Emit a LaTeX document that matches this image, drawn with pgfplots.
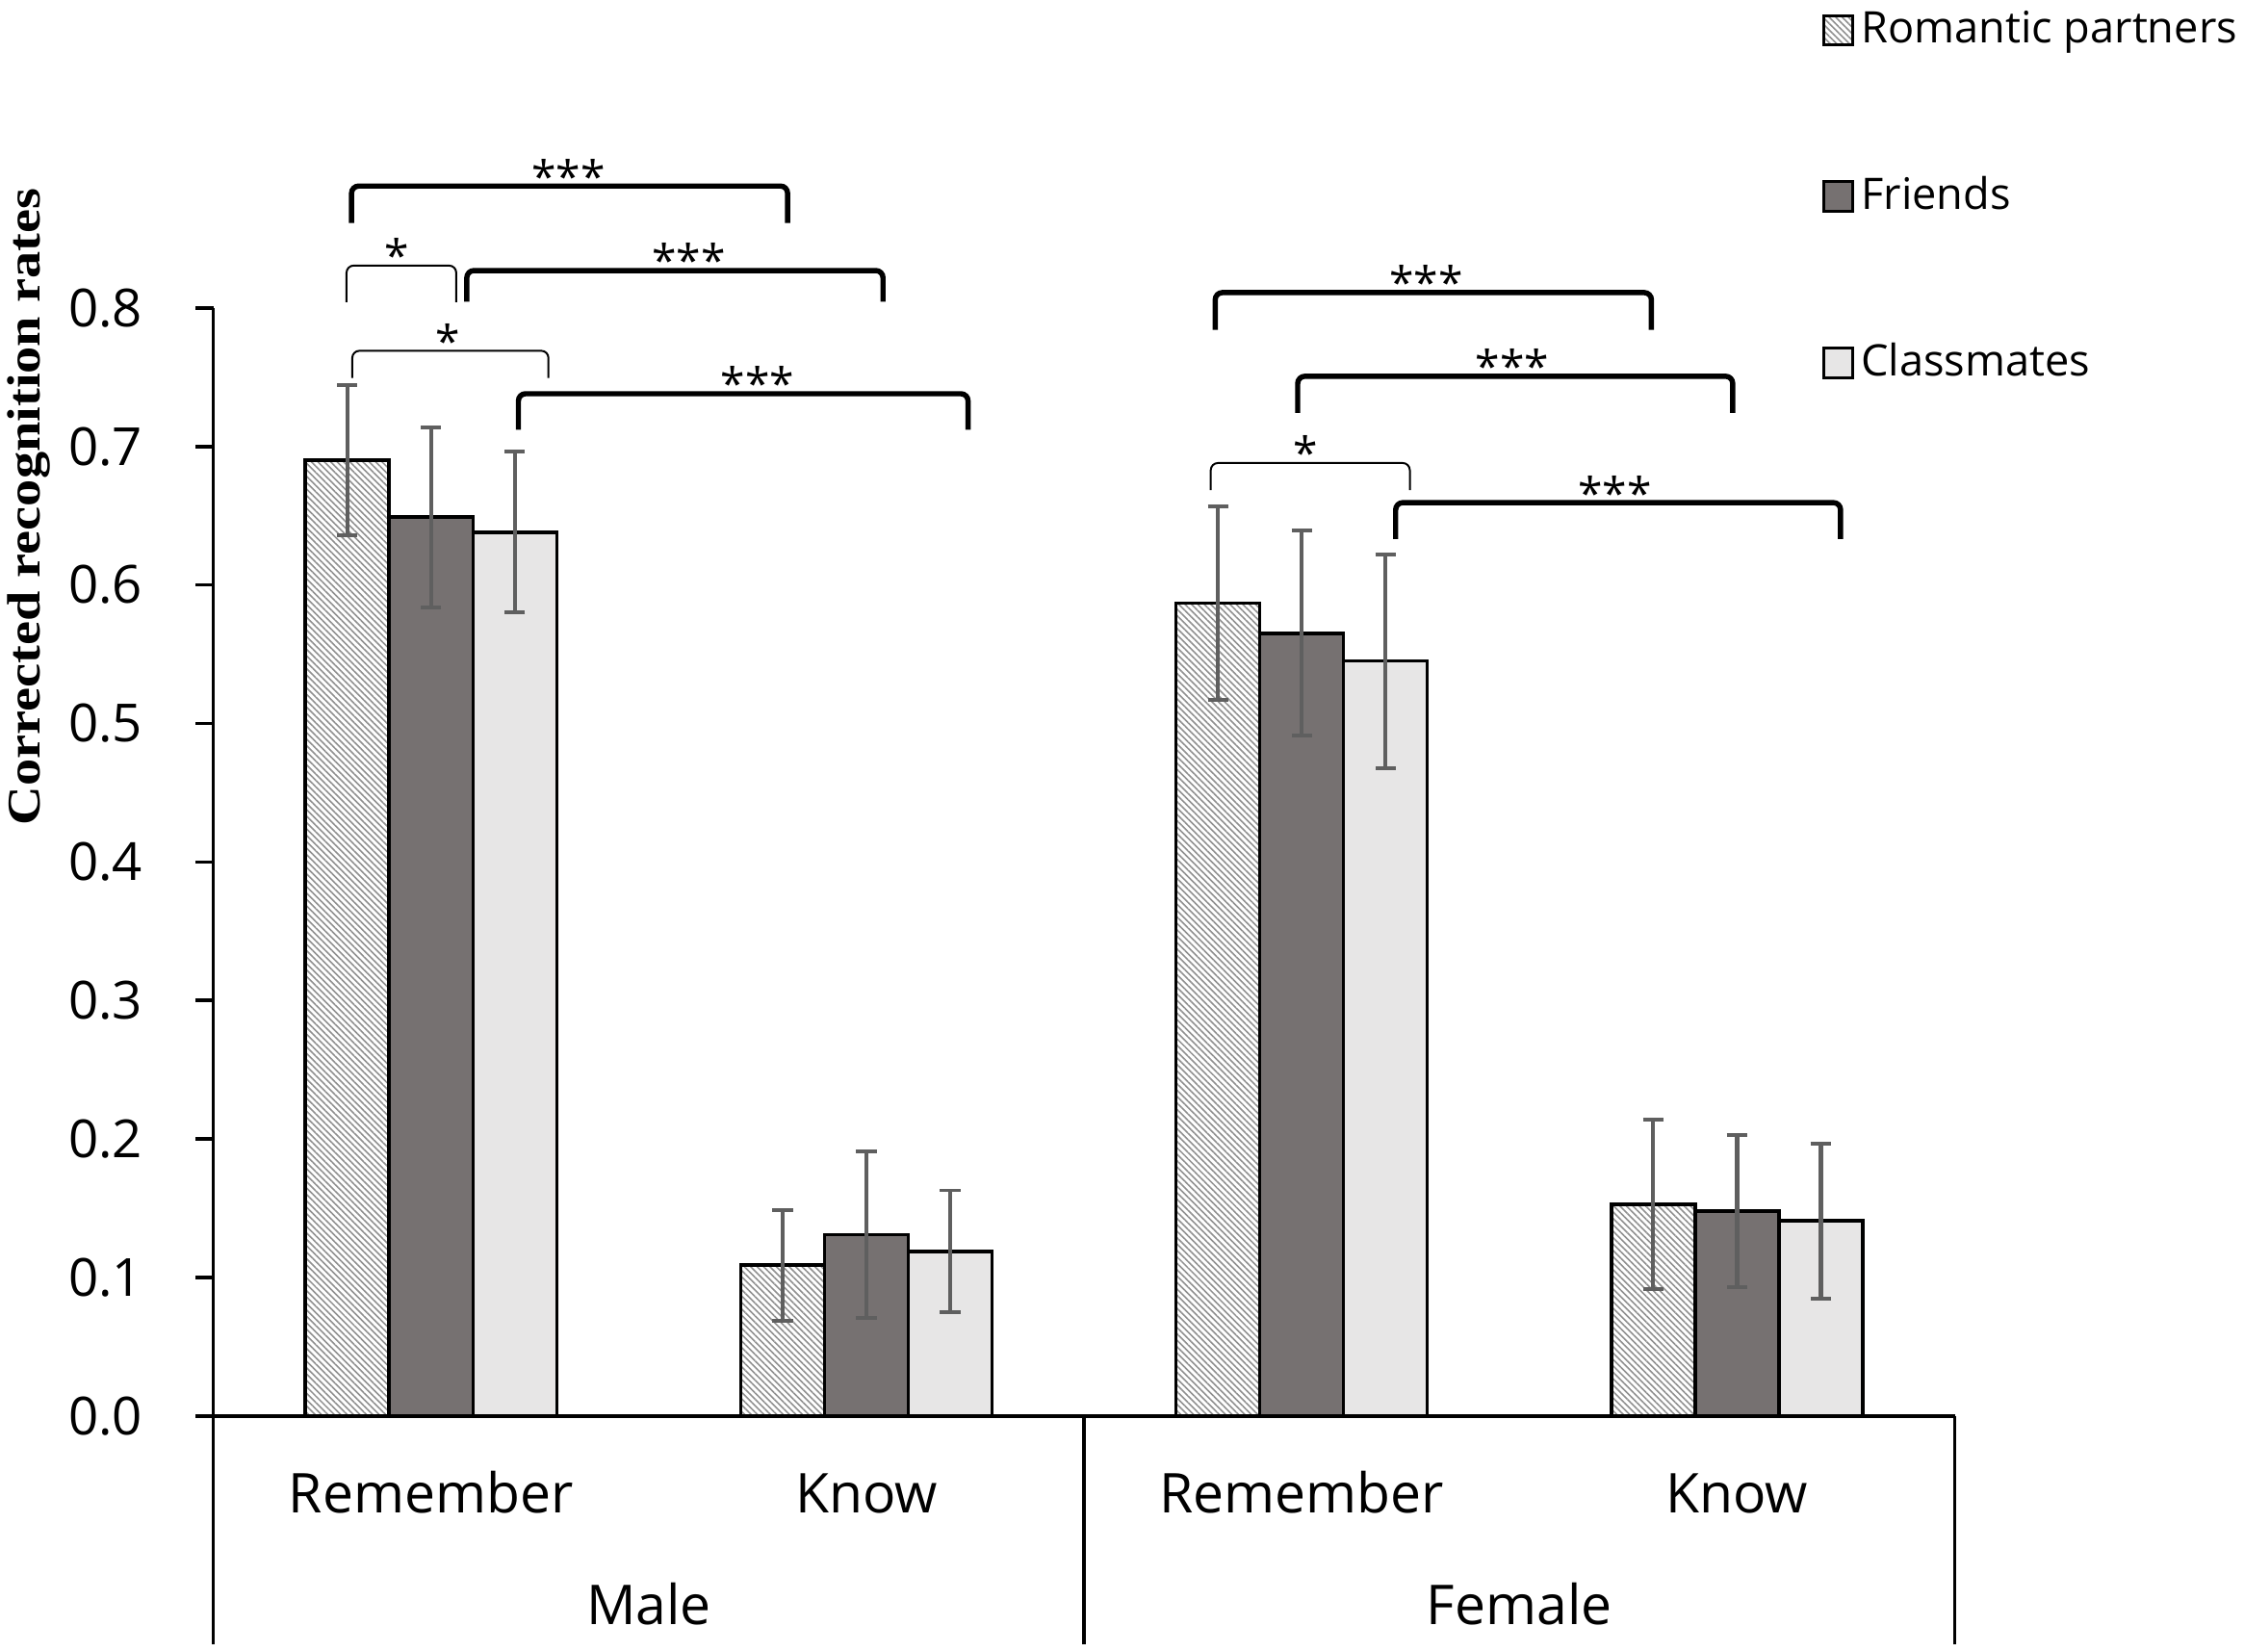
\documentclass[border=0pt]{standalone}
\usepackage{pgfplots}
\pgfplotsset{compat=1.18}
\usepackage{pgfplotstable}
\usepackage{fontspec}
\setmainfont{Open Sans}
\newfontfamily\serifb{Liberation Serif}
\usetikzlibrary{patterns.meta}
\definecolor{friends}{HTML}{767171}
\definecolor{classm}{HTML}{E7E6E6}
\definecolor{errc}{HTML}{5F5F5F}
\definecolor{hatch}{HTML}{909090}

\pgfplotstableread{
x y e
0.5 0.690 0.054
1.5 0.109 0.040
2.5 0.587 0.070
3.5 0.153 0.061
}\romantic
\pgfplotstableread{
x y e
0.5 0.649 0.065
1.5 0.131 0.060
2.5 0.565 0.074
3.5 0.148 0.055
}\friendst
\pgfplotstableread{
x y e
0.5 0.638 0.058
1.5 0.119 0.044
2.5 0.545 0.077
3.5 0.141 0.056
}\classt

% bracket: linewidth, x1, x2, bottom, top, labelx, label
\newcommand{\brk}[7]{%
  \draw[line width=#1, rounded corners=1.5pt] (axis cs:#2,#4) -- (axis cs:#2,#5) -- (axis cs:#3,#5) -- (axis cs:#3,#4);
  \node[anchor=base, inner sep=0pt, yshift=-1.4pt, font=\fontsize{9.3}{10}\selectfont] at (axis cs:#6,#5) {#7};
}

\begin{document}
\begin{tikzpicture}
\begin{axis}[
  scale only axis, width=364.8pt, height=232.2pt,
  xmin=0, xmax=4, ymin=0, ymax=0.8,
  axis lines=left, axis line style={-, line width=0.75pt},
  clip=false,
  ytick={0,0.1,0.2,0.3,0.4,0.5,0.6,0.7,0.8},
  yticklabel style={/pgf/number format/.cd, fixed, fixed zerofill, precision=1, assume math mode=true, /tikz/.cd, font=\fontsize{11}{12}\selectfont, xshift=-7.6pt},
  tick align=outside, major tick length=3.7pt,
  ytick style={line width=0.75pt, black},
  xtick={0.5,1.5,2.5,3.5}, xticklabels={Remember,Know,Remember,Know},
  xtick style={draw=none},
  xticklabel style={font=\fontsize{11.5}{13}\selectfont, anchor=base, yshift=-16.5pt},
  extra x ticks={1,3}, extra x tick labels={Male,Female},
  extra x tick style={xtick style={draw=none}, tick label style={yshift=-23.45pt}},
  ylabel={\serifb\bfseries\fontsize{9.8}{12}\selectfont\scalebox{1.16}[1]{Corrected recognition rates}},
  ylabel style={at={(axis description cs:-0.1061,0.8204)}, anchor=center},
  ybar, bar width=0.1924,
  legend image code/.code={\draw[#1, draw=black, line width=0.6pt] (0pt,-3.075pt) rectangle (6.15pt,3.075pt);},
  legend style={at={(axis description cs:0.9232,1.2752)}, anchor=north west, draw=none, fill=none, inner sep=0pt, row sep=23.45pt, font=\fontsize{9.1}{11}\selectfont, nodes={inner sep=1.5pt}},
  legend cell align=left,
]
\addplot[draw=black, line width=0.7pt, pattern={Lines[angle=-45, distance=0.95pt, line width=0.32pt]}, pattern color=hatch, bar shift=-0.1924,
  error bars/.cd, y dir=both, y explicit, error bar style={line width=0.85pt, color=errc}, error mark options={rotate=90, mark size=2.15pt, line width=0.8pt, color=errc}]
  table[x=x, y=y, y error=e] {\romantic};
\addlegendentry{Romantic partners}
\addplot[draw=black, line width=0.7pt, fill=friends, bar shift=0,
  error bars/.cd, y dir=both, y explicit, error bar style={line width=0.85pt, color=errc}, error mark options={rotate=90, mark size=2.15pt, line width=0.8pt, color=errc}]
  table[x=x, y=y, y error=e] {\friendst};
\addlegendentry{Friends}
\addplot[draw=black, line width=0.7pt, fill=classm, bar shift=0.1924,
  error bars/.cd, y dir=both, y explicit, error bar style={line width=0.85pt, color=errc}, error mark options={rotate=90, mark size=2.15pt, line width=0.8pt, color=errc}]
  table[x=x, y=y, y error=e] {\classt};
\addlegendentry{Classmates}

% group separators
\draw[line width=0.75pt] (axis cs:0,0) -- (axis cs:0,-0.1643);
\draw[line width=0.75pt] (axis cs:2,0) -- (axis cs:2,-0.1643);
\draw[line width=0.75pt] (axis cs:4,0) -- (axis cs:4,-0.1643);

% significance brackets
\brk{1.1pt}{0.3174}{1.3191}{0.8613}{0.8879}{0.8158}{***}
\brk{0.4pt}{0.3059}{0.5579}{0.8041}{0.8305}{0.4211}{*}
\brk{1.1pt}{0.5822}{1.5382}{0.8045}{0.8269}{1.0921}{***}
\brk{0.4pt}{0.3191}{0.7697}{0.7494}{0.7690}{0.5385}{*}
\brk{1.1pt}{0.7007}{1.7336}{0.7121}{0.7380}{1.25}{***}
\brk{1.1pt}{2.3013}{3.3033}{0.7841}{0.8110}{2.786}{***}
\brk{1.1pt}{2.4908}{3.4901}{0.7241}{0.7506}{2.9836}{***}
\brk{0.4pt}{2.2911}{2.7484}{0.6684}{0.6880}{2.5099}{*}
\brk{1.1pt}{2.7158}{3.7378}{0.6332}{0.6594}{3.2194}{***}

\coordinate (bbll) at (axis cs:-0.4901,-0.1695);
\coordinate (bbur) at (axis cs:4.6645,1.0222);
\end{axis}
\pgfresetboundingbox
\path[use as bounding box] (bbll) rectangle (bbur);
\end{tikzpicture}
\end{document}
